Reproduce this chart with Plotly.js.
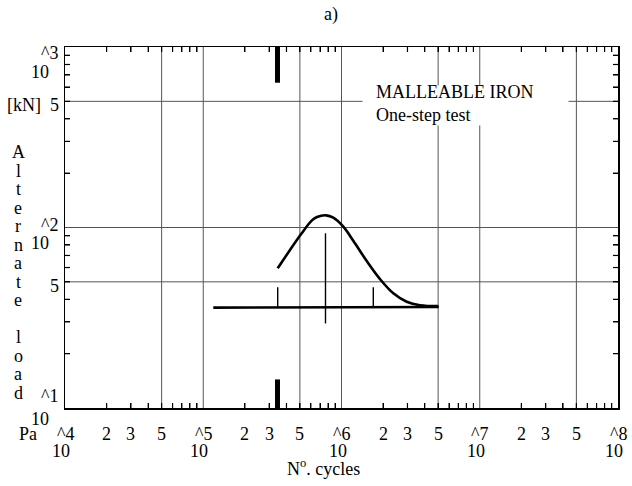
<!DOCTYPE html>
<html><head><meta charset="utf-8">
<script src="https://cdn.plot.ly/plotly-3.0.1.min.js"></script>
<style>html,body{margin:0;padding:0;background:#fff;}#chart{width:632px;height:486px;}</style>
</head><body><div id="chart"></div>
<script>
// ---- data ----
const curveCycles = [3.456e5, 4.242e5, 5.154e5, 6.087e5, 6.65e5, 7.726e5, 8.724e5, 1.0304e6, 1.217e6, 1.522e6, 1.899e6, 2.37e6, 2.962e6, 3.697e6, 5.014e6];
const curveLoad   = [59.4, 75.1, 92.9, 109.1, 114.3, 116.8, 113.3, 101.0, 84.5, 65.2, 51.8, 43.2, 38.8, 37.1, 36.7];
const baseCycles = [1.182e5, 5.05e6];
const baseLoad   = [36.0, 36.3];
const markCycles = [3.456e5, 7.66e5, 1.698e6];
const markLow    = [36.0, 29.4, 36.1];
const markHigh   = [46.6, 92.9, 46.6];
const barCycles  = [3.444e5, 3.444e5];
const barLow     = [634, 10];
const barHigh    = [1000, 14.4];
const gridCycles = [5e4, 1e5, 5e5, 1e6, 5e6, 1e7, 5e7];
const gridLoad   = [50, 100, 500];
const xDecadeVals = [1e4, 1e5, 1e6, 1e7, 1e8];
const xDecadeExp  = ['^4', '^5', '^6', '^7', '^8'];
const xSubVals = [2e4, 3e4, 5e4, 2e5, 3e5, 5e5, 2e6, 3e6, 5e6, 2e7, 3e7, 5e7];
const xSubText = ['2', '3', '5', '2', '3', '5', '2', '3', '5', '2', '3', '5'];
const yDecadeVals = [10, 100, 1000];
const yDecadeExp  = ['^1', '^2', '^3'];
const yFiveVals = [50, 500];
const yFiveText = ['5', '5'];
const titleText = 'a)';
const xTitleText = 'N<sup>o</sup>. cycles';
const yTitleText = 'Alternate load';
const unitText = '[kN]';
const paText = 'Pa';
const noteText = ['MALLEABLE IRON', 'One-step test'];

// ---- styling ----
const FONT = 'Liberation Serif, Times New Roman, serif';
const W = 632, H = 486, ML = 65, MR = 14, MT = 47, MB = 78;
const PW = W - ML - MR, PH = H - MT - MB;
const X_RANGE = [4, 8], Y_RANGE = [1, 3];
const px2x = p => (p - ML) / PW;
const py2y = p => (H - MB - p) / PH;
const yExpShift = [-12, -3, 6];   // px below decade line for "^n"
const yTenShift = [11, 15, 25];   // px below decade line for "10"
const TICK_PX = 5;
const xTickF = Math.pow(10, TICK_PX * (X_RANGE[1] - X_RANGE[0]) / PW);
const yTickF = Math.pow(10, TICK_PX * (Y_RANGE[1] - Y_RANGE[0]) / PH);
const xMin = Math.pow(10, X_RANGE[0]), xMax = Math.pow(10, X_RANGE[1]);
const yMin = Math.pow(10, Y_RANGE[0]), yMax = Math.pow(10, Y_RANGE[1]);

// minor tick positions (2..9 in every decade)
const xTicks = [], yTicks = [];
for (let e = X_RANGE[0]; e < X_RANGE[1]; e++) for (let m = 2; m <= 9; m++) xTicks.push(m * Math.pow(10, e));
for (let e = Y_RANGE[0]; e < Y_RANGE[1]; e++) for (let m = 2; m <= 9; m++) yTicks.push(m * Math.pow(10, e));

const traces = [];
const gx = [], gy = [];
gridCycles.forEach(v => { gx.push(v, v, null); gy.push(yMin, yMax, null); });
gridLoad.forEach(v => { gx.push(xMin, xMax, null); gy.push(v, v, null); });
traces.push({x: gx, y: gy, mode: 'lines', line: {color: '#555', width: 1}, hoverinfo: 'skip', showlegend: false});
const tx = [], ty = [];
xTicks.forEach(v => { tx.push(v, v, null, v, v, null); ty.push(yMin, yMin * yTickF, null, yMax / yTickF, yMax, null); });
yTicks.forEach(v => { tx.push(xMin, xMin * xTickF, null, xMax / xTickF, xMax, null); ty.push(v, v, null, v, v, null); });
traces.push({x: tx, y: ty, mode: 'lines', line: {color: '#000', width: 1.2}, hoverinfo: 'skip', showlegend: false});
traces.push({x: baseCycles, y: baseLoad, mode: 'lines', line: {color: '#000', width: 2.6}, showlegend: false});
const mx = [], my = [];
markCycles.forEach((c, i) => { mx.push(c, c, null); my.push(markLow[i], markHigh[i], null); });
traces.push({x: mx, y: my, mode: 'lines', line: {color: '#000', width: 1.4}, showlegend: false});
traces.push({x: curveCycles, y: curveLoad, mode: 'lines', line: {color: '#000', width: 2.6, shape: 'spline', smoothing: 1}, showlegend: false});
const bx = [], by = [];
barCycles.forEach((c, i) => { bx.push(c, c, null); by.push(barLow[i], barHigh[i], null); });
traces.push({x: bx, y: by, mode: 'lines', line: {color: '#000', width: 5}, showlegend: false});

const ann = [];
const tf = (s) => ({family: FONT, size: s, color: '#000'});
// white box behind the note (breaks the grid line like in the reference)
ann.push({xref: 'paper', yref: 'paper', x: px2x(362), y: py2y(85), xanchor: 'left', yanchor: 'top', width: 205, height: 39, text: '&nbsp;', showarrow: false, bgcolor: '#fff', borderpad: 0, font: tf(12)});
xDecadeVals.forEach((v, i) => {
  ann.push({xref: 'x', yref: 'paper', x: Math.log10(v), y: py2y(434), text: xDecadeExp[i], showarrow: false, xanchor: 'center', yanchor: 'middle', font: tf(18)});
  ann.push({xref: 'x', yref: 'paper', x: Math.log10(v), y: py2y(451), xshift: -4, text: '10', showarrow: false, xanchor: 'center', yanchor: 'middle', font: tf(18)});
});
xSubVals.forEach((v, i) => {
  ann.push({xref: 'x', yref: 'paper', x: Math.log10(v), y: py2y(434), text: xSubText[i], showarrow: false, xanchor: 'center', yanchor: 'middle', font: tf(18)});
});
yDecadeVals.forEach((v, i) => {
  ann.push({xref: 'paper', yref: 'y', x: px2x(49), y: Math.log10(v), yshift: -yExpShift[i], text: yDecadeExp[i], showarrow: false, xanchor: 'center', yanchor: 'middle', font: tf(18)});
  ann.push({xref: 'paper', yref: 'y', x: px2x(40), y: Math.log10(v), yshift: -yTenShift[i], text: '10', showarrow: false, xanchor: 'center', yanchor: 'middle', font: tf(18)});
});
yFiveVals.forEach((v, i) => {
  ann.push({xref: 'paper', yref: 'y', x: px2x(54), y: Math.log10(v), yshift: -4, text: yFiveText[i], showarrow: false, xanchor: 'center', yanchor: 'middle', font: tf(18)});
});
ann.push({xref: 'paper', yref: 'y', x: px2x(24), y: Math.log10(yFiveVals[1]), yshift: -4, text: unitText, showarrow: false, xanchor: 'center', yanchor: 'middle', font: tf(18)});
ann.push({xref: 'paper', yref: 'paper', x: px2x(28), y: py2y(434), text: paText, showarrow: false, xanchor: 'center', yanchor: 'middle', font: tf(18)});
ann.push({xref: 'paper', yref: 'paper', x: px2x(323), y: py2y(467), text: xTitleText, showarrow: false, xanchor: 'center', yanchor: 'middle', font: tf(18)});
ann.push({xref: 'paper', yref: 'paper', x: px2x(331), y: py2y(15), text: titleText, showarrow: false, xanchor: 'center', yanchor: 'middle', font: tf(18)});
Array.from(yTitleText).forEach((ch, i) => {
  if (ch === ' ') return;
  ann.push({xref: 'paper', yref: 'paper', x: px2x(18), y: py2y(152 + i * 18.5), text: ch, showarrow: false, xanchor: 'center', yanchor: 'middle', font: tf(18)});
});
ann.push({xref: 'paper', yref: 'paper', x: px2x(374), y: py2y(80), text: noteText.join('<br>'), showarrow: false, xanchor: 'left', yanchor: 'top', align: 'left', font: tf(18)});

const axisBase = {type: 'log', tickmode: 'array', ticks: 'inside', ticklen: 5, tickwidth: 1, tickcolor: '#000',
  showticklabels: false, showgrid: false, zeroline: false, showline: true, linecolor: '#000', linewidth: 1.5, mirror: 'ticks'};

const layout = {
  width: W, height: H,
  margin: {l: ML, r: MR, t: MT, b: MB},
  showlegend: false,
  xaxis: Object.assign({}, axisBase, {range: X_RANGE, tickvals: xTicks}),
  yaxis: Object.assign({}, axisBase, {range: Y_RANGE, tickvals: yTicks}),
  annotations: ann
};
Plotly.newPlot('chart', traces, layout, {staticPlot: true, displayModeBar: false});
</script>
</body></html>
